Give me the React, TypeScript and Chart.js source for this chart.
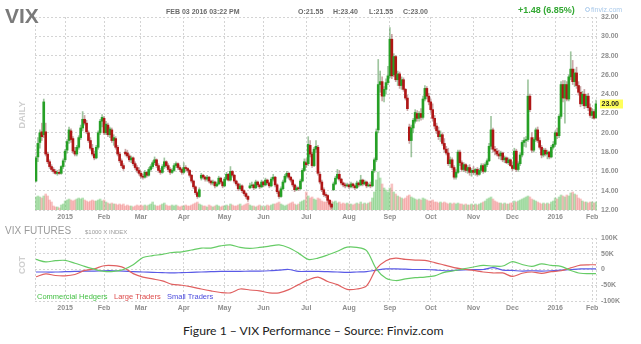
import React, { useEffect, useRef } from 'react';
import { Chart, registerables } from 'chart.js';

Chart.register(...registerables);

// ---------- DATA ----------
// trading-day index of the first session of each month, and its label
const monthTickIdx = [15, 35, 54, 76, 97, 117, 139, 161, 182, 203, 225, 245, 267, 286];
const monthTickLabels = ['2015', 'Feb', 'Mar', 'Apr', 'May', 'Jun', 'Jul', 'Aug', 'Sep', 'Oct', 'Nov', 'Dec', '2016', 'Feb'];

const priceMin = 12;
const priceMax = 32;
const priceStep = 2;

// daily candles [open, high, low, close], Dec 10 2014 .. Feb 03 2016
const ohlc: number[][] = [
  // Dec 2014
  [15.0, 17.6, 14.9, 17.4], [17.5, 19.5, 17.0, 18.9], [19.0, 20.3, 18.4, 20.0], [20.1, 21.0, 19.2, 19.6],
  [19.8, 23.5, 19.5, 23.2], [20.1, 21.0, 17.6, 17.8], [17.8, 18.0, 16.8, 17.0], [17.0, 17.2, 16.3, 16.5],
  [16.5, 16.7, 16.0, 16.2], [16.2, 16.4, 15.8, 16.0], [16.0, 16.2, 15.7, 15.8], [15.8, 16.1, 15.6, 15.9],
  [15.9, 16.2, 15.7, 15.8], [15.8, 16.6, 15.7, 16.5], [16.5, 17.3, 16.3, 17.1],
  // Jan 2015
  [17.2, 18.3, 17.0, 18.1], [18.2, 19.3, 17.9, 19.1], [19.2, 20.6, 18.9, 20.3], [20.2, 20.4, 19.0, 19.3],
  [19.4, 19.6, 17.9, 18.1], [18.1, 18.5, 17.6, 17.8], [17.8, 18.7, 17.6, 18.5], [18.5, 19.7, 18.3, 19.5],
  [19.5, 20.8, 19.3, 20.5], [20.5, 22.2, 20.2, 21.4], [21.4, 21.8, 20.8, 21.0], [21.0, 21.3, 19.9, 20.1],
  [20.0, 20.2, 19.0, 19.2], [19.2, 19.5, 18.2, 18.4], [18.4, 18.8, 17.6, 17.8], [17.8, 18.1, 17.2, 17.4],
  [17.4, 18.7, 17.3, 18.5], [18.5, 20.2, 18.3, 20.0], [20.0, 21.4, 19.8, 21.2], [21.2, 21.9, 20.6, 21.6],
  // Feb
  [21.5, 21.7, 19.8, 20.0], [20.0, 21.2, 19.8, 20.9], [20.8, 21.0, 19.6, 19.8], [19.8, 20.6, 19.5, 20.4],
  [20.3, 20.5, 19.0, 19.2], [19.2, 19.8, 18.7, 19.5], [19.4, 19.6, 18.3, 18.5], [18.5, 18.7, 17.6, 17.8],
  [17.8, 18.0, 16.9, 17.1], [17.1, 17.3, 16.4, 16.6], [16.6, 16.8, 16.1, 16.3], [18.0, 18.3, 17.6, 17.8],
  [17.9, 18.2, 17.4, 17.6], [17.6, 17.8, 17.0, 17.2], [17.2, 17.6, 16.9, 17.4], [17.4, 17.5, 16.6, 16.8],
  [16.8, 17.0, 16.2, 16.4], [16.4, 16.6, 15.9, 16.1], [16.1, 16.4, 15.6, 15.8],
  // Mar
  [15.8, 16.0, 15.3, 15.5], [15.5, 15.7, 15.2, 15.4], [15.4, 16.1, 15.3, 15.9], [15.9, 16.0, 15.4, 15.6],
  [15.6, 16.4, 15.5, 16.2], [16.2, 16.7, 16.0, 16.5], [16.5, 17.1, 16.3, 16.9], [16.9, 17.5, 16.7, 17.2],
  [17.2, 17.3, 16.4, 16.6], [16.6, 16.8, 15.9, 16.1], [16.1, 16.3, 15.7, 15.9], [15.9, 16.7, 15.8, 16.5],
  [16.5, 17.4, 16.3, 17.0], [17.0, 17.1, 16.4, 16.6], [16.6, 16.8, 16.0, 16.2], [16.2, 16.4, 15.7, 15.9],
  [15.9, 16.3, 15.8, 16.1], [16.1, 16.8, 16.0, 16.6], [16.6, 17.0, 16.4, 16.8], [16.8, 16.9, 16.2, 16.4],
  [16.4, 16.6, 16.0, 16.2], [16.2, 16.3, 15.7, 15.9],
  // Apr
  [15.9, 16.9, 15.8, 16.4], [16.4, 16.6, 16.0, 16.3], [16.3, 16.4, 15.9, 16.1], [16.1, 16.2, 15.4, 15.6],
  [15.6, 15.7, 14.8, 15.0], [15.0, 15.1, 14.2, 14.4], [14.4, 14.5, 13.6, 13.8], [13.8, 13.9, 13.2, 13.4],
  [13.4, 14.3, 13.3, 14.1], [15.3, 15.8, 15.1, 15.6], [15.6, 15.7, 15.2, 15.4], [15.4, 15.5, 15.0, 15.2],
  [15.2, 15.6, 15.0, 15.4], [15.4, 15.5, 14.8, 15.0], [15.0, 15.1, 14.6, 14.8], [14.8, 15.1, 14.6, 14.9],
  [14.9, 15.0, 14.3, 14.5], [14.5, 14.9, 14.4, 14.7], [14.7, 15.5, 14.6, 15.3], [15.3, 15.4, 14.7, 14.9],
  [14.9, 15.0, 14.3, 14.5],
  // May
  [14.5, 15.4, 14.4, 15.2], [15.2, 15.9, 15.1, 15.7], [15.7, 15.8, 15.0, 15.1], [15.1, 16.5, 15.0, 16.0],
  [16.0, 16.1, 15.4, 15.6], [15.6, 15.7, 14.8, 15.0], [15.0, 15.1, 14.5, 14.7], [14.7, 14.8, 14.0, 14.2],
  [14.2, 14.7, 14.1, 14.5], [14.5, 14.6, 13.8, 14.0], [14.0, 14.1, 13.5, 13.7], [13.7, 13.8, 13.2, 13.4],
  [13.4, 13.5, 12.9, 13.1], [14.3, 14.8, 14.2, 14.5], [14.5, 14.9, 14.3, 14.6], [14.6, 14.7, 14.1, 14.3],
  [14.3, 15.1, 14.2, 14.9], [14.9, 15.0, 14.4, 14.6], [14.6, 14.7, 14.2, 14.4], [14.4, 15.1, 14.3, 14.9],
  // Jun
  [14.9, 15.0, 14.4, 14.6], [14.6, 15.3, 14.5, 15.1], [15.1, 15.2, 14.6, 14.8], [14.8, 14.9, 14.3, 14.5],
  [14.5, 15.4, 14.4, 15.2], [15.2, 15.7, 15.0, 15.4], [15.4, 15.5, 14.4, 14.6], [14.6, 14.7, 13.7, 13.9],
  [13.9, 14.0, 13.2, 13.4], [13.4, 14.4, 13.3, 14.2], [14.2, 15.1, 14.1, 14.9], [14.9, 15.7, 14.8, 15.5],
  [15.5, 16.0, 15.3, 15.8], [15.8, 15.9, 15.2, 15.4], [15.4, 15.5, 14.9, 15.1], [15.1, 15.2, 14.4, 14.6],
  [14.6, 14.7, 13.9, 14.1], [14.1, 14.5, 14.0, 14.3], [14.3, 14.4, 14.0, 14.2], [14.2, 15.2, 14.1, 15.0],
  [15.0, 16.3, 14.9, 16.1], [16.1, 17.3, 16.0, 17.0],
  // Jul
  [16.9, 17.3, 16.4, 16.7], [16.8, 19.6, 16.6, 18.8], [18.7, 19.2, 17.5, 17.8], [17.8, 18.0, 16.4, 16.6],
  [16.6, 18.5, 16.5, 18.3], [18.3, 19.2, 18.0, 18.6], [18.5, 18.7, 15.6, 15.8], [15.7, 15.9, 14.7, 14.9],
  [14.9, 15.1, 13.9, 14.1], [14.1, 14.3, 13.4, 13.6], [13.6, 13.8, 13.3, 13.5], [13.5, 13.6, 12.8, 13.0],
  [13.0, 13.1, 12.4, 12.6], [12.6, 12.7, 12.1, 12.3], [14.1, 14.9, 14.0, 14.7], [14.7, 15.5, 14.6, 15.3],
  [15.3, 16.2, 15.2, 15.7], [15.7, 16.1, 15.0, 15.2], [15.2, 15.3, 14.6, 14.8], [14.8, 14.9, 14.4, 14.6],
  [14.6, 14.8, 14.3, 14.5], [14.5, 14.8, 14.4, 14.6],
  // Aug
  [14.6, 14.7, 14.2, 14.4], [14.4, 14.9, 14.3, 14.7], [14.7, 14.8, 14.3, 14.5], [14.5, 14.6, 14.1, 14.3],
  [14.3, 15.0, 14.2, 14.8], [14.8, 14.9, 14.4, 14.6], [14.6, 15.6, 14.5, 15.1], [15.1, 15.2, 14.5, 14.7],
  [14.7, 15.1, 14.6, 14.9], [14.9, 15.0, 14.3, 14.5], [14.5, 14.8, 14.4, 14.6], [14.6, 14.9, 14.3, 14.5],
  [14.5, 16.2, 14.4, 16.0], [16.1, 17.4, 15.9, 17.2], [17.2, 20.4, 17.0, 20.1], [20.3, 27.6, 20.0, 25.0],
  [25.0, 26.4, 24.2, 25.3], [25.3, 25.8, 23.3, 23.8], [23.8, 24.8, 23.2, 24.5], [24.5, 25.6, 24.0, 25.2],
  [25.2, 26.9, 25.0, 25.9],
  // Sep
  [25.9, 30.9, 25.7, 29.7], [29.7, 30.2, 25.6, 25.9], [26.0, 28.2, 25.8, 27.9], [27.9, 28.0, 25.3, 25.5],
  [25.5, 26.4, 24.9, 26.1], [26.1, 26.3, 24.6, 24.9], [24.9, 25.8, 24.5, 25.5], [25.5, 25.7, 24.3, 24.5],
  [24.5, 24.6, 23.4, 23.6], [23.6, 23.9, 22.3, 22.5], [20.6, 20.9, 18.9, 19.2], [19.2, 20.8, 17.5, 20.5],
  [20.5, 21.5, 20.0, 21.3], [21.2, 22.4, 21.0, 22.1], [22.0, 22.3, 21.2, 21.5], [21.5, 22.2, 21.2, 22.0],
  [22.0, 22.5, 21.3, 21.6], [21.6, 23.8, 21.4, 23.5], [23.5, 24.9, 23.3, 24.6], [24.6, 24.8, 23.5, 23.8],
  [23.8, 24.1, 22.9, 23.2],
  // Oct
  [23.2, 23.5, 22.1, 22.4], [22.4, 23.0, 21.2, 21.5], [21.5, 21.8, 20.4, 20.7], [20.7, 21.0, 19.9, 20.2],
  [20.2, 20.6, 19.3, 19.6], [19.6, 20.2, 19.1, 19.8], [19.8, 20.0, 18.7, 18.9], [18.9, 19.4, 18.0, 18.3],
  [18.3, 18.6, 17.7, 17.9], [17.9, 18.4, 16.6, 16.8], [16.8, 17.5, 16.4, 17.2], [17.2, 17.4, 16.2, 16.4],
  [16.4, 16.6, 15.2, 15.4], [15.4, 16.2, 15.2, 15.9], [15.9, 18.2, 15.8, 18.0], [18.0, 18.2, 16.6, 16.9],
  [16.9, 17.1, 16.0, 16.2], [16.2, 16.9, 16.0, 16.7], [16.7, 16.8, 15.9, 16.1], [16.1, 16.6, 15.8, 16.4],
  [16.4, 16.7, 15.6, 15.9], [15.9, 16.3, 15.5, 16.1],
  // Nov
  [16.1, 16.5, 15.7, 15.9], [15.9, 16.3, 15.6, 16.2], [16.2, 16.4, 15.5, 15.7], [15.7, 16.3, 15.6, 16.1],
  [16.1, 16.8, 15.9, 16.6], [16.6, 16.8, 15.8, 16.0], [16.0, 16.9, 15.9, 16.7], [16.7, 17.3, 16.5, 17.1],
  [17.1, 18.9, 17.0, 18.6], [18.6, 21.7, 18.3, 20.3], [20.3, 20.5, 18.0, 18.3], [18.3, 18.6, 17.7, 18.1],
  [18.1, 18.4, 17.6, 17.8], [17.8, 18.2, 17.3, 17.6], [17.6, 18.1, 17.2, 17.9], [17.9, 18.0, 17.0, 17.2],
  [17.2, 17.6, 16.9, 17.4], [17.4, 17.5, 16.8, 16.9], [16.9, 17.4, 16.7, 17.2], [17.2, 17.3, 16.5, 16.6],
  // Dec
  [16.6, 16.9, 16.1, 16.3], [16.3, 18.4, 16.2, 18.1], [18.1, 18.3, 16.0, 16.2], [16.2, 17.0, 16.0, 16.8],
  [16.8, 17.9, 16.6, 17.7], [17.7, 19.2, 17.5, 19.0], [19.0, 19.5, 18.6, 19.2], [19.2, 19.6, 18.5, 19.3],
  [19.3, 25.5, 19.1, 23.8], [23.8, 24.0, 22.2, 22.4], [19.5, 20.0, 18.0, 18.2], [18.2, 19.5, 18.0, 19.3],
  [19.3, 20.5, 19.1, 20.3], [20.3, 20.6, 19.0, 19.2], [19.2, 19.5, 18.3, 18.5], [18.5, 18.7, 17.4, 17.7],
  [17.7, 18.4, 17.5, 18.2], [18.2, 18.4, 17.6, 17.8], [17.8, 18.2, 17.3, 18.0], [18.0, 18.1, 17.3, 17.5],
  [17.5, 18.7, 17.4, 18.5], [18.5, 19.1, 18.3, 18.8],
  // Jan 2016
  [18.8, 20.2, 18.6, 20.0], [20.0, 20.5, 19.4, 19.7], [19.7, 21.9, 19.5, 21.7], [21.7, 25.3, 21.5, 25.0],
  [25.0, 25.4, 23.2, 23.6], [23.6, 25.4, 21.0, 25.0], [25.0, 25.3, 23.3, 23.5], [23.5, 26.0, 23.3, 25.8],
  [25.8, 28.4, 25.5, 26.6], [26.6, 27.5, 25.0, 25.3], [25.3, 26.6, 24.8, 26.2], [26.2, 26.8, 24.6, 24.9],
  [24.9, 25.3, 23.9, 24.2], [24.2, 24.8, 22.7, 23.0], [23.0, 24.3, 22.8, 24.0], [24.0, 24.5, 22.5, 22.8],
  [22.8, 24.0, 22.6, 23.8], [23.8, 24.1, 22.3, 22.6], [22.6, 23.0, 21.6, 21.8],
  // Feb 2016
  [21.8, 22.5, 21.5, 22.2], [22.2, 22.4, 21.4, 21.52], [21.55, 23.4, 21.55, 23.0],
];

// daily volume (thousands of contracts)
const volume = [
  65, 70, 65, 60, 70, 80, 70, 50, 40, 20, 15, 15, 10, 25, 30,
  45, 50, 55, 50, 45, 50, 55, 60, 55, 60, 50, 45, 40, 45, 50, 45, 45, 50, 55, 45,
  50, 40, 35, 30, 35, 30, 30, 25, 30, 25, 30, 20, 25, 20, 20, 15, 20, 25, 20,
  25, 20, 25, 20, 25, 30, 40, 25, 20, 20, 25, 30, 35, 25, 20, 20, 25, 20, 25, 20, 15, 20,
  20, 25, 20, 20, 25, 30, 35, 40, 30, 25, 20, 20, 15, 25, 20, 15, 20, 25, 20, 15, 20,
  20, 25, 20, 30, 25, 20, 20, 25, 30, 20, 25, 30, 35, 25, 20, 20, 15, 20, 25, 20, 15,
  20, 25, 20, 25, 30, 30, 35, 40, 30, 25, 20, 25, 30, 35, 40, 30, 25, 30, 40, 45, 50,
  90, 70, 60, 65, 55, 50, 60, 55, 45, 40, 40, 45, 50, 45,
  40, 45, 35, 40, 30, 35, 30, 35, 30, 30, 25, 30, 35, 30, 40, 30, 35, 30, 35, 40,
  60, 90, 150, 190, 160, 130, 110, 100, 90, 110, 130, 90, 80, 70, 65, 60, 55, 60, 70,
  75, 65, 60, 55, 50, 55, 50, 60, 55, 50, 45, 45, 50, 40, 40, 35, 40, 35, 40, 35, 30, 35,
  30, 35, 30, 35, 30, 30, 25, 30, 25, 25, 30,
  25, 30, 25, 30, 35, 40, 45, 55, 60, 65, 55, 45, 40, 35, 35, 30, 35, 30, 30, 35, 35,
  45, 40, 45, 50, 55, 60, 65, 70, 65, 55, 50, 45, 40, 35, 30, 35, 30, 35, 30, 40, 45,
  60, 55, 65, 75, 70, 65, 75, 70, 85, 90, 80, 75, 60, 55, 45, 40, 40, 35, 40, 40, 35, 40,
];
const volumeAxisMax = 965;

// weekly COT net positions (thousands of contracts), at trading-day index
const cotWeekIdx = [
  0, 5, 10, 15, 20, 25, 30, 35, 40, 45, 50, 55, 60, 65, 70, 75, 80, 85, 90, 95,
  100, 105, 110, 115, 120, 125, 130, 135, 140, 145, 150, 155, 160, 165, 170, 175, 180, 185, 190, 195,
  200, 205, 210, 215, 220, 225, 230, 235, 240, 245, 250, 255, 260, 265, 270, 275, 280, 285, 288,
];
const commercialHedgers = [
  32, 24, 28, 29, 20, 10, 1, -6, -6, 0, 15, 38, 44, 48, 54, 56, 62, 68, 68, 75,
  78, 70, 67, 70, 74, 78, 69, 52, 32, 36, 46, 58, 71, 70, 60, 2, -28, -35, -30, -26,
  -24, -20, -9, -4, 2, 8, 13, 11, 11, 25, 16, 10, 18, 13, 10, -3, -12, -13, -13,
];
const largeTraders = [
  -23, -14, -19, -20, -16, -3, 2, 12, 12, 6, -13, -24, -30, -36, -47, -50, -55, -62, -68, -73,
  -74, -62, -65, -68, -74, -74, -64, -48, -33, -24, -38, -48, -63, -62, -52, 2, 28, 36, 32, 30,
  29, 22, 14, 6, 1, -3, -8, -11, -11, -22, -12, -8, -12, -7, -4, 5, 14, 15, 15,
];
const smallTraders = [
  -8, -8, -8, -7, -6, -5, -5, -4, -4, -5, -7, -8, -9, -10, -11, -10, -9, -8, -7, -6,
  -6, -6, -5, -5, -4, -2, 0, -6, -6, -6, -7, -8, -9, -8, -7, -2, 2, 2, 1, 0,
  0, -1, -4, -3, -1, 0, 0, 6, -2, -3, -5, -4, -5, -4, -2, 0, 2, 2, 2,
];
const cotTicks = [-100, -50, 0, 50, 100];

const headerDate = 'FEB 03 2016 03:22 PM';
const headerChange = '+1.48 (6.85%)';

// ---------- STYLE ----------
const FONT = '"Liberation Sans", Arial, Helvetica, sans-serif';
const GRID = '#d4d4d4';
const TICK_COLOR = '#8e8e8e';
const UP = 'rgb(38,160,38)';
const DOWN = 'rgb(175,22,22)';
const UP_WICK = 'rgba(80,150,80,0.55)';
const DOWN_WICK = 'rgba(150,80,80,0.5)';
const UP_VOL = 'rgba(90,190,90,0.45)';
const DOWN_VOL = 'rgba(240,120,120,0.45)';

const xMin = -0.5;
const xMax = ohlc.length - 0.5;

const framePlugin = {
  id: 'frame',
  beforeDatasetsDraw(chart: any) {
    const { ctx, chartArea: a } = chart;
    ctx.save();
    ctx.strokeStyle = GRID;
    ctx.lineWidth = 1;
    ctx.setLineDash([2, 2]);
    ctx.beginPath();
    ctx.moveTo(Math.round(a.left) + 0.5, a.top);
    ctx.lineTo(Math.round(a.left) + 0.5, a.bottom);
    ctx.moveTo(Math.round(a.right) - 0.5, a.top);
    ctx.lineTo(Math.round(a.right) - 0.5, a.bottom);
    ctx.stroke();
    ctx.restore();
  },
};

const lastPricePlugin = {
  id: 'lastPrice',
  afterDraw(chart: any) {
    const last = ohlc[ohlc.length - 1][3];
    const y = chart.scales.y.getPixelForValue(last);
    const x = chart.chartArea.right + 3;
    const ctx = chart.ctx;
    ctx.save();
    ctx.fillStyle = '#ffff5a';
    ctx.fillRect(x, Math.round(y) - 4.5, 23, 9);
    ctx.fillStyle = '#222';
    ctx.font = `bold 7px ${FONT}`;
    ctx.textBaseline = 'middle';
    ctx.fillText(last.toFixed(2), x + 1.5, y + 0.5);
    ctx.restore();
  },
};

function xAxis(height: number) {
  return {
    type: 'linear' as const,
    min: xMin,
    max: xMax,
    offset: false,
    afterBuildTicks: (axis: any) => {
      axis.ticks = monthTickIdx.map((v) => ({ value: v }));
    },
    afterFit: (s: any) => {
      s.height = height;
    },
    grid: { color: GRID, lineWidth: 1, drawTicks: false, offset: false },
    border: { display: false, dash: [2, 2] },
    ticks: {
      autoSkip: false,
      maxRotation: 0,
      padding: 3,
      color: TICK_COLOR,
      font: { family: FONT, size: 7, weight: 'bold' as const },
      callback: (v: any) => {
        const k = monthTickIdx.indexOf(Number(v));
        return k >= 0 ? monthTickLabels[k] : '';
      },
    },
  };
}

function Text(props: {
  x: number; y: number; size: number; color: string; bold?: boolean; family?: string;
  rotate?: boolean; children: React.ReactNode;
}) {
  const { x, y, size, color, bold, family, rotate, children } = props;
  const style: React.CSSProperties = {
    position: 'absolute',
    left: x,
    top: y - size / 2,
    fontFamily: family || FONT,
    fontSize: size,
    fontWeight: bold ? 700 : 400,
    color,
    lineHeight: `${size}px`,
    whiteSpace: 'nowrap',
  };
  if (rotate) {
    style.top = y;
    style.transform = 'translate(-50%,-50%) rotate(-90deg)';
  }
  return <div style={style}>{children}</div>;
}

export default function App() {
  const topRef = useRef<HTMLCanvasElement>(null);
  const botRef = useRef<HTMLCanvasElement>(null);

  useEffect(() => {
    const isUp = ohlc.map(([o, , , c]) => c >= o);

    const top = new Chart(topRef.current!, {
      type: 'bar',
      data: {
        datasets: [
          {
            type: 'bar',
            label: 'Volume',
            data: volume.map((v, i) => ({ x: i, y: v })) as any,
            yAxisID: 'yVol',
            backgroundColor: isUp.map((u) => (u ? UP_VOL : DOWN_VOL)),
            barThickness: 2,
            grouped: false,
            order: 3,
          },
          {
            type: 'bar',
            label: 'Range',
            data: ohlc.map(([, h, l], i) => ({ x: i, y: [l, h] })) as any,
            yAxisID: 'y',
            backgroundColor: isUp.map((u) => (u ? UP_WICK : DOWN_WICK)),
            barThickness: 1,
            grouped: false,
            order: 2,
          },
          {
            type: 'bar',
            label: 'Body',
            data: ohlc.map(([o, , , c], i) => {
              const lo = Math.min(o, c);
              const hi = Math.max(Math.max(o, c), lo + 0.08);
              return { x: i, y: [lo, hi] };
            }) as any,
            yAxisID: 'y',
            backgroundColor: isUp.map((u) => (u ? UP : DOWN)),
            barThickness: 2,
            grouped: false,
            order: 1,
          },
        ],
      },
      options: {
        animation: false,
        responsive: false,
        devicePixelRatio: 1,
        layout: { padding: { left: 35, top: 17, right: 0, bottom: 0 } },
        plugins: { legend: { display: false }, tooltip: { enabled: false } },
        scales: {
          x: xAxis(15) as any,
          y: {
            position: 'right',
            min: priceMin,
            max: priceMax,
            afterFit: (s: any) => {
              s.width = 44;
            },
            grid: { color: GRID, lineWidth: 1, drawTicks: false },
            border: { display: false, dash: [2, 2] },
            ticks: {
              stepSize: priceStep,
              padding: 4,
              color: TICK_COLOR,
              font: { family: FONT, size: 7, weight: 'bold' },
              callback: (v: any) => Number(v).toFixed(2),
            },
          },
          yVol: { display: false, min: 0, max: volumeAxisMax },
        },
      },
      plugins: [framePlugin, lastPricePlugin],
    });

    const line = (label: string, values: number[], color: string) => ({
      label,
      data: cotWeekIdx.map((x, i) => ({ x, y: values[i] })),
      borderColor: color,
      borderWidth: 1.2,
      pointRadius: 0,
      tension: 0.3,
      fill: false,
    });

    const bot = new Chart(botRef.current!, {
      type: 'line',
      data: {
        datasets: [
          line('Commercial Hedgers', commercialHedgers, '#66cc66'),
          line('Large Traders', largeTraders, '#e06060'),
          line('Small Traders', smallTraders, '#5a5ae6'),
        ],
      },
      options: {
        animation: false,
        responsive: false,
        devicePixelRatio: 1,
        layout: { padding: { left: 35, top: 13, right: 0, bottom: 0 } },
        plugins: { legend: { display: false }, tooltip: { enabled: false } },
        scales: {
          x: xAxis(14) as any,
          y: {
            position: 'right',
            min: cotTicks[0],
            max: cotTicks[cotTicks.length - 1],
            afterFit: (s: any) => {
              s.width = 44;
            },
            afterBuildTicks: (axis: any) => {
              axis.ticks = cotTicks.map((v) => ({ value: v }));
            },
            grid: { color: GRID, lineWidth: 1, drawTicks: false },
            border: { display: false, dash: [2, 2] },
            ticks: {
              padding: 4,
              color: TICK_COLOR,
              font: { family: FONT, size: 7, weight: 'bold' },
              callback: (v: any) => (Number(v) === 0 ? '0' : `${v}K`),
            },
          },
        },
      },
      plugins: [framePlugin],
    });

    return () => {
      top.destroy();
      bot.destroy();
    };
  }, []);

  const last = ohlc[ohlc.length - 1];

  return (
    <div style={{ position: 'absolute', left: 0, top: 0, width: 641, height: 344, background: '#fff', overflow: 'hidden' }}>
      <canvas ref={topRef} width={641} height={225} style={{ position: 'absolute', left: 0, top: 0, width: 641, height: 225 }} />
      <canvas ref={botRef} width={641} height={90} style={{ position: 'absolute', left: 0, top: 225, width: 641, height: 90 }} />

      <Text x={5} y={15} size={21} color="#7a7a7a" bold>VIX</Text>
      <Text x={166} y={11} size={7} color="#6a6a6a" bold>{headerDate}</Text>
      <Text x={298} y={11} size={7} color="#6a6a6a" bold>{`O:${last[0].toFixed(2)}`}</Text>
      <Text x={333} y={11} size={7} color="#6a6a6a" bold>{`H:${last[1].toFixed(2)}`}</Text>
      <Text x={369} y={11} size={7} color="#6a6a6a" bold>{`L:${last[2].toFixed(2)}`}</Text>
      <Text x={403} y={11} size={7} color="#6a6a6a" bold>{`C:${last[3].toFixed(2)}`}</Text>
      <Text x={518} y={10.5} size={9} color="#33a833" bold>{headerChange}</Text>
      <div style={{ position: 'absolute', left: 585, top: 7, width: 3, height: 3, border: '1px solid #a9c9ea', borderRadius: 3 }} />
      <Text x={591} y={9} size={7} color="#a9c9ea">finviz.com</Text>

      <Text x={22} y={115} size={9.5} color="#cfcfcf" bold rotate>DAILY</Text>

      <Text x={5} y={231} size={10} color="#9a9a9a">VIX FUTURES</Text>
      <Text x={85} y={231.5} size={6} color="#9a9a9a">$1000 X INDEX</Text>
      <Text x={22} y={265} size={8.5} color="#cfcfcf" bold rotate>COT</Text>

      <Text x={37} y={296.5} size={7.5} color="#44c044">Commercial Hedgers</Text>
      <Text x={114} y={296.5} size={7.5} color="#dd4b4b">Large Traders</Text>
      <Text x={167} y={296.5} size={7.5} color="#4b4bdd">Small Traders</Text>

      <Text x={183} y={331} size={12.2} color="#222" family="Lato, 'Open Sans', sans-serif">
        Figure 1 – VIX Performance – Source: Finviz.com
      </Text>
    </div>
  );
}
